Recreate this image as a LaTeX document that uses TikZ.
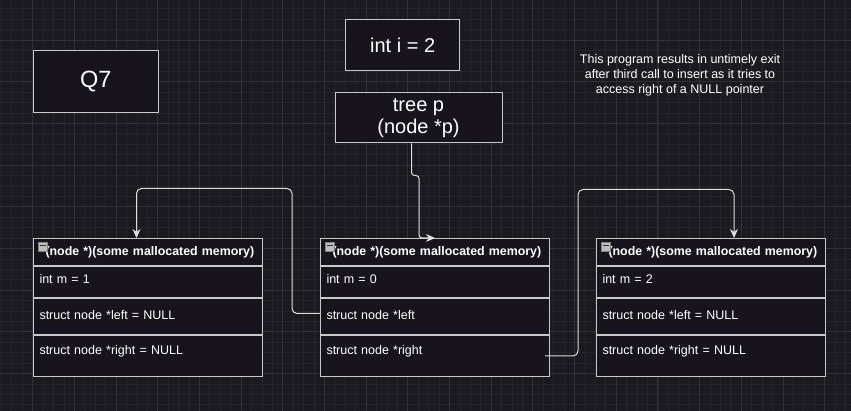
\documentclass[tikz,border=0pt]{standalone}
\usepackage{fontspec}
\setmainfont{Liberation Sans}
\usetikzlibrary{arrows.meta}

\definecolor{bgdark}{RGB}{27,26,32}
\definecolor{gridminor}{RGB}{37,36,43}
\definecolor{gridmajor}{RGB}{50,49,56}
\definecolor{boxfill}{RGB}{24,20,30}
\definecolor{boxline}{RGB}{200,200,200}
\definecolor{wirecol}{RGB}{222,222,222}
\definecolor{btnfill}{RGB}{190,190,190}

% lift a row text without changing the row height
\newcommand{\rowlift}[2]{\raisebox{#1}[\height][\depth]{#2}}

\tikzset{
    plainbox/.style={draw=boxline, fill=boxfill, line width=1pt, inner sep=0pt,
        text=white, align=center},
    hdrow/.style={draw=boxline, fill=boxfill, line width=1pt, anchor=north west,
        minimum width=229pt, minimum height=27pt, inner xsep=6pt, inner ysep=0pt,
        text width=217pt, align=left, text=white,
        font=\bfseries\fontsize{12.4}{14}\selectfont},
    fieldrow/.style={hdrow, font=\fontsize{12.5}{14}\selectfont},
    minbtn/.style={draw=gray, fill=btnfill, minimum size=9pt, inner sep=0pt,
        path picture={\draw[black!80, line width=1.2pt]
            ([xshift=1.5pt,yshift=1.5pt]path picture bounding box.west) --
            ([xshift=-1.5pt,yshift=1.5pt]path picture bounding box.east);}},
    wire/.style={draw=wirecol, line width=1pt, rounded corners=5pt,
        -{Stealth[length=9pt,width=8pt]}},
}

\begin{document}
\begin{tikzpicture}[x=1pt, y=-1pt]
        \useasboundingbox (0,0) rectangle (851,411);
        \fill[bgdark] (0,0) rectangle (851,411);
        % grid
        \foreach \gx in {0,...,81}
            \draw[gridminor, line width=0.6pt] ({1.34+\gx*10.42},0) -- ({1.34+\gx*10.42},411);
        \foreach \gy in {0,...,38}
            \draw[gridminor, line width=0.6pt] (0,{8.74+\gy*10.42}) -- (851,{8.74+\gy*10.42});
        \foreach \gx in {0,...,19}
            \draw[gridmajor, line width=0.7pt] ({32.6+\gx*41.68},0) -- ({32.6+\gx*41.68},411);
        \foreach \gy in {0,...,8}
            \draw[gridmajor, line width=0.7pt] (0,{40+\gy*41.68}) -- (851,{40+\gy*41.68});

        % top boxes
        \node[plainbox, minimum width=125pt, minimum height=62pt,
            font=\fontsize{23.5}{26}\selectfont] (qbox) at (95.7,81.7) {Q7};
        \node[plainbox, minimum width=114pt, minimum height=51pt,
            font=\fontsize{20}{23}\selectfont] (ibox) at (402.7,45) {int i = 2};
        \node[plainbox, minimum width=167pt, minimum height=50pt,
            font=\fontsize{20}{22.6}\selectfont] (treep) at (418.5,118)
            {tree p\\(node *p)};
        \node[text=white, align=center, font=\fontsize{12.5}{15}\selectfont]
            (note) at (680,75.5) {This program results in untimely exit\\after
            third call to insert as it tries to\\access right of a NULL pointer};

        % left struct
        \node[hdrow] (ahd) at (33,238) {\hspace*{6pt}(node *)(some mallocated memory)};
        \node[fieldrow, minimum height=31pt] (am) at (ahd.south west)
            {\rowlift{3pt}{int m = 1}};
        \node[fieldrow, minimum height=36pt] (aleft) at (am.south west)
            {\rowlift{1pt}{struct node *left = NULL}};
        \node[fieldrow, minimum height=41pt] (aright) at (aleft.south west)
            {\rowlift{4.5pt}{struct node *right = NULL}};
        \node[minbtn] (abtn) at ([xshift=9.5pt,yshift=-9pt]ahd.north west) {};

        % middle struct
        \node[hdrow] (bhd) at (320,238) {\hspace*{6pt}(node *)(some mallocated memory)};
        \node[fieldrow, minimum height=31pt] (bm) at (bhd.south west)
            {\rowlift{3pt}{int m = 0}};
        \node[fieldrow, minimum height=36pt] (bleft) at (bm.south west)
            {\rowlift{1pt}{struct node *left}};
        \node[fieldrow, minimum height=41pt] (bright) at (bleft.south west)
            {\rowlift{4.5pt}{struct node *right}};
        \node[minbtn] (bbtn) at ([xshift=9.5pt,yshift=-9pt]bhd.north west) {};

        % right struct
        \node[hdrow] (chd) at (596,238) {\hspace*{6pt}(node *)(some mallocated memory)};
        \node[fieldrow, minimum height=31pt] (cm) at (chd.south west)
            {\rowlift{3pt}{int m = 2}};
        \node[fieldrow, minimum height=36pt] (cleft) at (cm.south west)
            {\rowlift{1pt}{struct node *left = NULL}};
        \node[fieldrow, minimum height=41pt] (cright) at (cleft.south west)
            {\rowlift{4.5pt}{struct node *right = NULL}};
        \node[minbtn] (cbtn) at ([xshift=9.5pt,yshift=-9pt]chd.north west) {};

        % pointers
        \draw[wire, rounded corners=3pt] ([xshift=-7pt]treep.south) -- ++(0,32)
            -| ([xshift=-16pt]bhd.north) -- (bhd.north);
        \draw[wire] ([yshift=3pt]bleft.west) -- ++(-28,0) -- ++(0,-125)
            -| ([xshift=-11.5pt]ahd.north);
        \draw[wire] ([xshift=-5pt]bright.east) -- ++(33,0) -- ++(0,-166.5)
            -| ([xshift=23pt]chd.north);
\end{tikzpicture}
\end{document}
